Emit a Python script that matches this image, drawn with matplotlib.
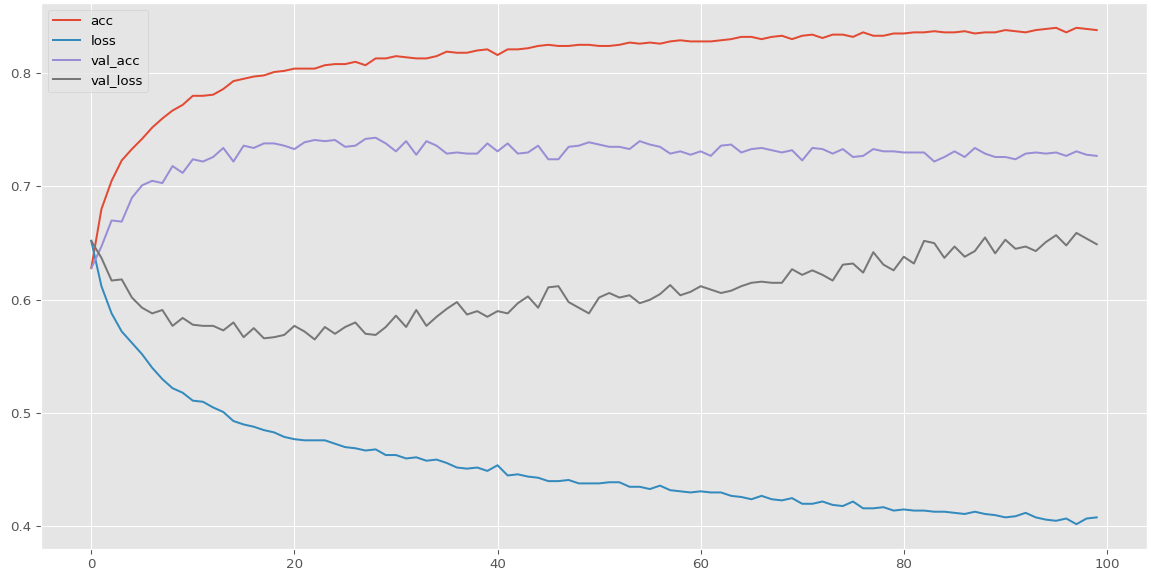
import matplotlib
matplotlib.use("Agg")
import matplotlib.pyplot as plt
import numpy as np

# training history (100 epochs)
acc = [
    0.628, 0.680, 0.705, 0.723, 0.733, 0.742, 0.752, 0.760, 0.767, 0.772,
    0.780, 0.780, 0.781, 0.786, 0.793, 0.795, 0.797, 0.798, 0.801, 0.802,
    0.804, 0.804, 0.804, 0.807, 0.808, 0.808, 0.810, 0.807, 0.813, 0.813,
    0.815, 0.814, 0.813, 0.813, 0.815, 0.819, 0.818, 0.818, 0.820, 0.821,
    0.816, 0.821, 0.821, 0.822, 0.824, 0.825, 0.824, 0.824, 0.825, 0.825,
    0.824, 0.824, 0.825, 0.827, 0.826, 0.827, 0.826, 0.828, 0.829, 0.828,
    0.828, 0.828, 0.829, 0.830, 0.832, 0.832, 0.830, 0.832, 0.833, 0.830,
    0.833, 0.834, 0.831, 0.834, 0.834, 0.832, 0.836, 0.833, 0.833, 0.835,
    0.835, 0.836, 0.836, 0.837, 0.836, 0.836, 0.837, 0.835, 0.836, 0.836,
    0.838, 0.837, 0.836, 0.838, 0.839, 0.840, 0.836, 0.840, 0.839, 0.838,
]
loss = [
    0.652, 0.612, 0.588, 0.572, 0.562, 0.552, 0.540, 0.530, 0.522, 0.518,
    0.511, 0.510, 0.505, 0.501, 0.493, 0.490, 0.488, 0.485, 0.483, 0.479,
    0.477, 0.476, 0.476, 0.476, 0.473, 0.470, 0.469, 0.467, 0.468, 0.463,
    0.463, 0.460, 0.461, 0.458, 0.459, 0.456, 0.452, 0.451, 0.452, 0.449,
    0.454, 0.445, 0.446, 0.444, 0.443, 0.440, 0.440, 0.441, 0.438, 0.438,
    0.438, 0.439, 0.439, 0.435, 0.435, 0.433, 0.436, 0.432, 0.431, 0.430,
    0.431, 0.430, 0.430, 0.427, 0.426, 0.424, 0.427, 0.424, 0.423, 0.425,
    0.420, 0.420, 0.422, 0.419, 0.418, 0.422, 0.416, 0.416, 0.417, 0.414,
    0.415, 0.414, 0.414, 0.413, 0.413, 0.412, 0.411, 0.413, 0.411, 0.410,
    0.408, 0.409, 0.412, 0.408, 0.406, 0.405, 0.407, 0.402, 0.407, 0.408,
]
val_acc = [
    0.628, 0.647, 0.670, 0.669, 0.690, 0.701, 0.705, 0.703, 0.718, 0.712,
    0.724, 0.722, 0.726, 0.734, 0.722, 0.736, 0.734, 0.738, 0.738, 0.736,
    0.733, 0.739, 0.741, 0.740, 0.741, 0.735, 0.736, 0.742, 0.743, 0.738,
    0.731, 0.740, 0.728, 0.740, 0.736, 0.729, 0.730, 0.729, 0.729, 0.738,
    0.731, 0.738, 0.729, 0.730, 0.736, 0.724, 0.724, 0.735, 0.736, 0.739,
    0.737, 0.735, 0.735, 0.733, 0.740, 0.737, 0.735, 0.729, 0.731, 0.728,
    0.731, 0.727, 0.736, 0.737, 0.730, 0.733, 0.734, 0.732, 0.730, 0.732,
    0.723, 0.734, 0.733, 0.729, 0.733, 0.726, 0.727, 0.733, 0.731, 0.731,
    0.730, 0.730, 0.730, 0.722, 0.726, 0.731, 0.726, 0.734, 0.729, 0.726,
    0.726, 0.724, 0.729, 0.730, 0.729, 0.730, 0.727, 0.731, 0.728, 0.727,
]
val_loss = [
    0.652, 0.637, 0.617, 0.618, 0.602, 0.593, 0.588, 0.591, 0.577, 0.584,
    0.578, 0.577, 0.577, 0.573, 0.580, 0.567, 0.575, 0.566, 0.567, 0.569,
    0.577, 0.572, 0.565, 0.576, 0.570, 0.576, 0.580, 0.570, 0.569, 0.576,
    0.586, 0.576, 0.591, 0.577, 0.585, 0.592, 0.598, 0.587, 0.590, 0.585,
    0.590, 0.588, 0.597, 0.603, 0.593, 0.611, 0.612, 0.598, 0.593, 0.588,
    0.602, 0.606, 0.602, 0.604, 0.597, 0.600, 0.605, 0.613, 0.604, 0.607,
    0.612, 0.609, 0.606, 0.608, 0.612, 0.615, 0.616, 0.615, 0.615, 0.627,
    0.622, 0.626, 0.622, 0.617, 0.631, 0.632, 0.624, 0.642, 0.631, 0.626,
    0.638, 0.632, 0.652, 0.650, 0.637, 0.647, 0.638, 0.643, 0.655, 0.641,
    0.653, 0.645, 0.647, 0.643, 0.651, 0.657, 0.648, 0.659, 0.654, 0.649,
]
series_names = ["acc", "loss", "val_acc", "val_loss"]

plt.style.use("ggplot")

fig = plt.figure(figsize=(1151 / 96, 573 / 96), dpi=96)
ax = fig.add_axes([41 / 1151, 24 / 573, 1106 / 1151, 546 / 573])

epochs = np.arange(len(acc))
for name, values in zip(series_names, [acc, loss, val_acc, val_loss]):
    ax.plot(epochs, values, label=name)

ax.legend(loc="upper left")

fig.savefig("out.png", dpi=96)
